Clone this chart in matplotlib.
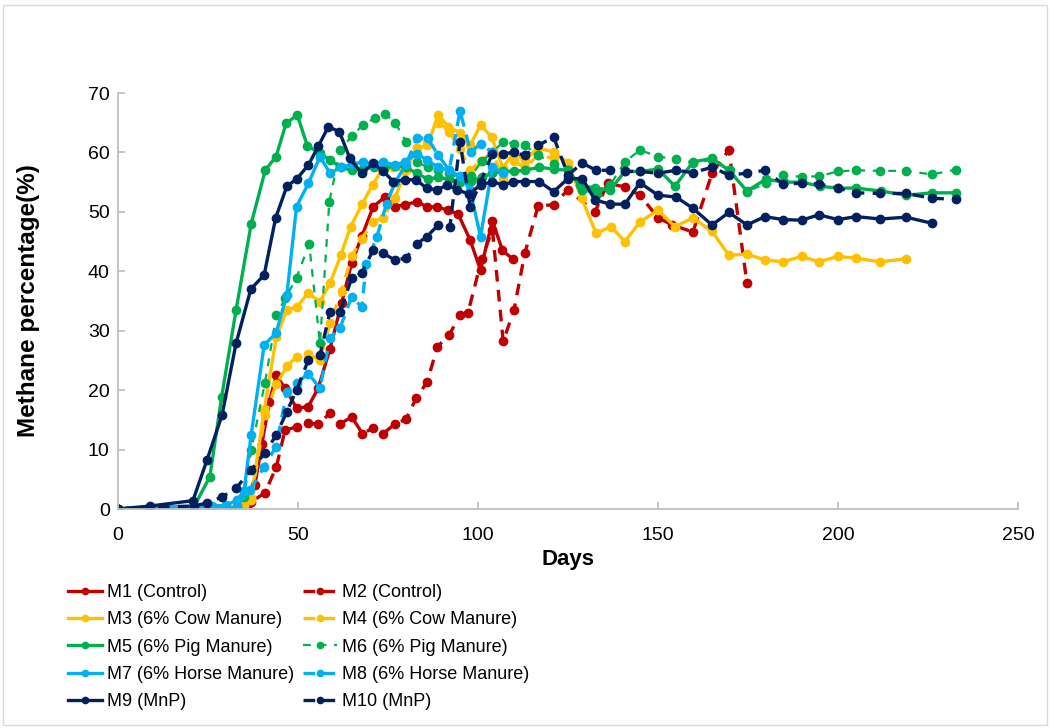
import matplotlib
matplotlib.use('Agg')
import matplotlib.pyplot as plt
from matplotlib.patches import Rectangle

plt.rcParams['font.family'] = ['Liberation Sans', 'DejaVu Sans']

# ---- data ----
m1_days = [0, 9, 21, 26, 30, 33, 36, 38, 40, 42, 44, 46.4, 49.6, 52.8, 55.6, 58.9, 62.1, 64.9, 67.8,
           70.9, 74.2, 77, 79.7, 83, 85.7, 88.6, 91.7, 94.5, 97.8, 100.7, 104, 106.8, 109.8]
m1_vals = [0, 0.3, 0.3, 0.2, 0.2, 0.3, 0.8, 4, 11, 18, 22.5, 20.3, 17, 17.2, 20.3, 27, 34.6, 41.4, 46,
           50.9, 52.5, 50.9, 51.2, 51.7, 50.9, 50.8, 50.3, 49.6, 45.3, 40.2, 48.5, 43.5, 42]

m2_days = [0, 9, 21, 26, 30, 33, 37, 40.8, 44, 46.4, 49.6, 52.9, 55.6, 58.9, 61.7, 64.9, 67.9, 70.9,
           73.7, 76.9, 80, 82.8, 85.9, 88.7, 92, 95, 97.2, 101, 104, 107, 110, 113, 116.7, 121, 125,
           132.5, 136, 140.8, 145, 150, 154, 159.7, 165, 169.7, 174.7]
m2_vals = [0, 0.3, 0.3, 0.2, 0.2, 0.3, 1.2, 2.7, 7.1, 13.3, 13.8, 14.4, 14.3, 16.1, 14.3, 15.5, 12.7, 13.6,
           12.7, 14.3, 15.1, 18.6, 21.4, 27.3, 29.3, 32.6, 33, 42, 47, 28.2, 33.5, 43, 51, 51.2, 53.7,
           50, 54.8, 54.2, 52.8, 49, 47.8, 46.6, 56.5, 60.4, 38]

m3_days = [0, 9, 21, 26, 30, 33, 35, 37, 40.6, 44, 46.9, 49.6, 52.8, 56.1, 58.9, 61.9, 64.6, 67.9, 70.7,
           73.2, 76.4, 79.7, 83, 85.9, 89, 91.8, 95, 97.8, 100.7, 103.8, 106.9, 109.8, 113, 116.7, 121,
           125, 128.8, 132.8, 137, 140.8, 145, 150, 154.7, 159.7, 165, 169.7, 174.7, 179.7, 184.7,
           189.9, 194.7, 200, 205, 211.7, 218.9]
m3_vals = [0, 0.3, 0.3, 0.2, 0.2, 0.3, 0.8, 1.8, 16.6, 29, 33.5, 34, 36.3, 34.9, 38, 42.7, 47.5, 51.4, 54.5,
           57, 57.6, 56.8, 60.7, 61.2, 66.3, 64.3, 63.3, 61.2, 64.6, 62.6, 57.4, 59.9, 58.7, 60.7, 60.1,
           58.2, 52.3, 46.4, 47.5, 45, 48.3, 50.3, 47.5, 49, 46.7, 42.7, 42.9, 41.9, 41.6,
           42.5, 41.6, 42.5, 42.2, 41.6, 42.1]

m4_days = [0, 9, 21, 26, 30, 33, 35, 37, 40.8, 44, 46.9, 49.6, 52.8, 56.1, 58.9, 62.1, 64.9, 67.7, 70.9,
           73.6, 76.9, 80, 83, 85.9, 89, 92, 95, 97.8, 100.7, 104, 107, 110, 113, 116.7, 121, 125]
m4_vals = [0, 0.3, 0.3, 0.2, 0.2, 0.2, 0.5, 1.5, 15.8, 21, 24, 25.6, 26, 25.1, 31.3, 36.6, 42.5, 45.5, 48.3,
           49, 52.3, 57, 60.7, 62, 65, 63.5, 60.5, 57, 58.5, 60, 55.5, 58.5, 57.5, 59.5, 59, 57.5]

m5_days = [0, 9, 21, 25.5, 28.8, 32.8, 37, 40.9, 43.9, 46.7, 49.8, 52.6, 56.1, 58.9, 62, 65, 68, 71, 74,
           77, 80, 83, 86, 89, 92, 95, 98, 101, 104, 107, 110, 113, 117, 121, 125, 128.3, 132.5, 136.7,
           140.8, 145, 150, 154.7, 159.7, 165, 169.7, 174.7, 180, 185, 190, 195, 200, 205, 212, 219,
           226, 232.8]
m5_vals = [0, 0.3, 0.3, 5.4, 18.9, 33.5, 48, 57, 59.3, 64.9, 66.3, 61.1, 59.9, 58.7, 57.5, 57, 57.2, 57.5,
           57.3, 57.8, 57.5, 56.5, 55.5, 55.8, 55.5, 55, 55.2, 55.8, 56.5, 56.8, 56.8, 57, 57.5, 57.2,
           57, 54.5, 54, 53.7, 56.8, 56.8, 57.2, 54.3, 58.4, 59, 57, 53.5, 55.5, 55, 55, 54.3, 54, 54,
           53.5, 52.8, 53.2, 53.2]

m6_days = [0, 9, 21, 26, 30, 33, 35, 37, 40.8, 44, 46.5, 49.6, 53.1, 56.1, 58.7, 61.7, 64.9, 68, 71.4,
           74.2, 77, 80, 83, 86, 89, 92, 95, 98, 101, 104, 107, 110, 113, 116.7, 121, 125, 129, 133,
           136.7, 140.8, 145, 150, 155, 159.7, 165, 170, 174.7, 180, 184.7, 190, 194.7, 200, 205,
           211.7, 218.9, 226, 232.8]
m6_vals = [0, 0.3, 0.3, 0.2, 0.2, 0.3, 2, 9.9, 21.2, 32.6, 35.5, 38.9, 44.6, 27.9, 51.7, 60.4, 62.7, 64.6,
           65.8, 66.5, 65, 61.8, 58.4, 57.5, 57, 56.5, 55.5, 56, 58.5, 60, 61.8, 61.5, 61.2, 59.6, 58,
           57, 53.7, 53, 54.5, 58.4, 60.4, 59.3, 58.9, 58.3, 58.7, 57, 53.4, 54.8, 56.2, 55.9, 56,
           56.8, 57, 56.9, 56.9, 56.3, 57.1]

m7_days = [0, 9, 21, 26, 30, 33, 35, 37, 40.6, 43.9, 46.9, 49.6, 52.9, 56.1, 58.9, 62, 65, 68, 71, 73.6,
           76.9, 79.7, 83, 85.8, 89, 92, 95, 97.8, 100.7, 104, 107]
m7_vals = [0, 0.3, 0.3, 0.5, 0.6, 1.5, 3, 12.5, 27.6, 29.6, 36, 50.9, 54.8, 59.3, 56.5, 57.5, 58, 58.4,
           58, 58.4, 57.9, 58.4, 59.8, 58.7, 57.5, 57, 56, 53.7, 45.8, 57.6, 56.5]

m8_days = [0, 9, 21, 26, 30, 33, 36.7, 40.5, 43.9, 46.9, 49.6, 52.9, 56.1, 58.9, 61.7, 64.9, 67.7, 69,
           71.9, 74.6, 77, 80, 83, 86, 89, 92, 95, 98, 100.7, 104]
m8_vals = [0, 0.3, 0.3, 0.2, 0.3, 0.5, 3.2, 7, 10.5, 19.7, 21.2, 22.8, 20.3, 28.8, 30.5, 35.7, 34, 41.3,
           45.8, 51.4, 55, 58, 62.4, 62.4, 59.5, 57, 67, 60, 61.5, 60]

m9_days = [0, 8.9, 20.8, 24.7, 28.9, 32.8, 36.9, 40.6, 43.8, 46.9, 49.6, 52.9, 55.6, 58.4, 61.5, 64.4,
           67.7, 70.9, 73.7, 76.5, 79.7, 82.8, 85.7, 88.5, 91.5, 94.3, 97.5, 100.7, 104, 107, 109.8, 113,
           117, 121, 125, 129, 132.5, 136.7, 140.8, 145, 150, 155, 159.7, 165, 169.7, 174.7, 179.7,
           184.7, 189.9, 194.7, 200, 205, 211.7, 218.9, 226]
m9_vals = [0, 0.5, 1.4, 8.2, 15.8, 27.9, 37, 39.4, 49, 54.3, 55.5, 57.9, 61, 64.3, 63.5, 59,
           56.5, 58.2, 56.8, 55.1, 55.4, 55.4, 54, 53.7, 54.5, 53.7, 53, 54.5, 55.1, 54.5, 55.1, 55.1,
           55.1, 53.4, 55.6, 55.6, 52, 51.3, 51.3, 54.9, 52.8, 52.5, 50.6, 47.8, 49.9, 47.8, 49.2,
           48.7, 48.6, 49.5, 48.7, 49.2, 48.8, 49.1, 48.1]

m10_days = [0, 9, 21, 24.7, 28.8, 32.8, 37, 40.8, 44, 46.9, 49.6, 52.9, 56.1, 58.9, 61.7, 64.9, 67.7,
            70.9, 73.7, 76.9, 80, 83, 85.7, 89, 92.2, 95, 97.8, 100.7, 104, 107, 110, 113, 116.8, 121,
            125, 129, 132.8, 136.7, 140.8, 145, 150, 155, 159.7, 165, 169.7, 174.7, 179.7, 184.7, 190,
            194.7, 200, 205, 211.7, 218.9, 226, 232.8]
m10_vals = [0, 0.3, 0.5, 1, 2, 3.5, 6.6, 9.4, 12.5, 16.4, 20, 25.1, 25.9, 33.2, 33.2, 38.8, 39.7,
            43.6, 43, 41.9, 42.2, 44.6, 45.8, 47.8, 47.5, 61.8, 50.9, 55, 59.8, 59.8, 60, 59.5, 61.2,
            62.6, 56.2, 58.2, 57, 57, 56.8, 56.8, 56.5, 57, 56.6, 57.5, 56.2, 56.5, 57, 54.7, 54.8,
            54.7, 54, 53.2, 53.1, 53.1, 52.3, 52.1]

labels = ['M1 (Control)', 'M2 (Control)', 'M3 (6% Cow Manure)', 'M4 (6% Cow Manure)',
          'M5 (6% Pig Manure)', 'M6 (6% Pig Manure)', 'M7 (6% Horse Manure)',
          'M8 (6% Horse Manure)', 'M9 (MnP)', 'M10 (MnP)']
x_ticks = [0, 50, 100, 150, 200, 250]
y_ticks = [0, 10, 20, 30, 40, 50, 60, 70]

red = '#C00000'
yellow = '#FFC000'
green = '#00B050'
cyan = '#00B0F0'
navy = '#002060'

series = [
    (m1_days, m1_vals, red, 'solid'),
    (m2_days, m2_vals, red, 'dash'),
    (m3_days, m3_vals, yellow, 'solid'),
    (m4_days, m4_vals, yellow, 'dash'),
    (m5_days, m5_vals, green, 'solid'),
    (m6_days, m6_vals, green, 'dot'),
    (m7_days, m7_vals, cyan, 'solid'),
    (m8_days, m8_vals, cyan, 'dash'),
    (m9_days, m9_vals, navy, 'solid'),
    (m10_days, m10_vals, navy, 'dash'),
]

fig = plt.figure(figsize=(10.5, 7.28), dpi=100)
ax = fig.add_axes([118 / 1050, 1 - 509 / 728, 900 / 1050, 416 / 728])

handles = []
for (d, v, c, style), lab in zip(series, labels):
    if style == 'solid':
        h, = ax.plot(d, v, color=c, lw=2.4, marker='o', ms=6, label=lab)
    elif style == 'dash':
        h, = ax.plot(d, v, color=c, lw=2.4, marker='o', ms=6, dashes=(3.5, 2.5), label=lab)
    else:
        h, = ax.plot(d, v, color=c, lw=1.6, marker='o', ms=6, dashes=(3.5, 3.5), label=lab)
    handles.append(h)

ax.set_xlim(0, 250)
ax.set_ylim(0, 70)
ax.set_xticks(x_ticks)
ax.set_yticks(y_ticks)
for s in ['top', 'right']:
    ax.spines[s].set_visible(False)
for s in ['left', 'bottom']:
    ax.spines[s].set_color('#BFBFBF')
    ax.spines[s].set_linewidth(1.3)
ax.tick_params(direction='in', length=5, width=1.3, color='#BFBFBF', labelsize=14)
ax.tick_params(axis='x', pad=13)
ax.tick_params(axis='y', pad=6)
ax.set_xlabel('Days', fontsize=16, fontweight='bold')
ax.set_ylabel('Methane percentage(%)', fontsize=17.5, fontweight='bold')
ax.xaxis.set_label_coords(0.5, -0.096)
ax.yaxis.set_label_coords(-0.087, 0.5)

# legend: two separate columns, condensed font like the original
left_h = [handles[i] for i in (0, 2, 4, 6, 8)]
right_h = [handles[i] for i in (1, 3, 5, 7, 9)]
leg_kw = dict(frameon=False, handlelength=1.9, handletextpad=0.28, labelspacing=0.57,
              numpoints=1, markerscale=0.75, borderaxespad=0, borderpad=0,
              prop={'family': ['Liberation Sans Narrow', 'Liberation Sans'], 'size': 13})
fig.legend(handles=left_h, labels=[h.get_label() for h in left_h], loc='upper left',
           bbox_to_anchor=(68 / 1050, 1 - 584 / 728), **leg_kw)
fig.legend(handles=right_h, labels=[h.get_label() for h in right_h], loc='upper left',
           bbox_to_anchor=(303 / 1050, 1 - 584 / 728), **leg_kw)

# outer frame like the chart area border
fig.patches.append(Rectangle((3 / 1050, 3 / 728), 1044 / 1050, 720 / 728, transform=fig.transFigure,
                             fill=False, edgecolor='#D9D9D9', lw=1.0))

fig.savefig('out.png', dpi=100)
